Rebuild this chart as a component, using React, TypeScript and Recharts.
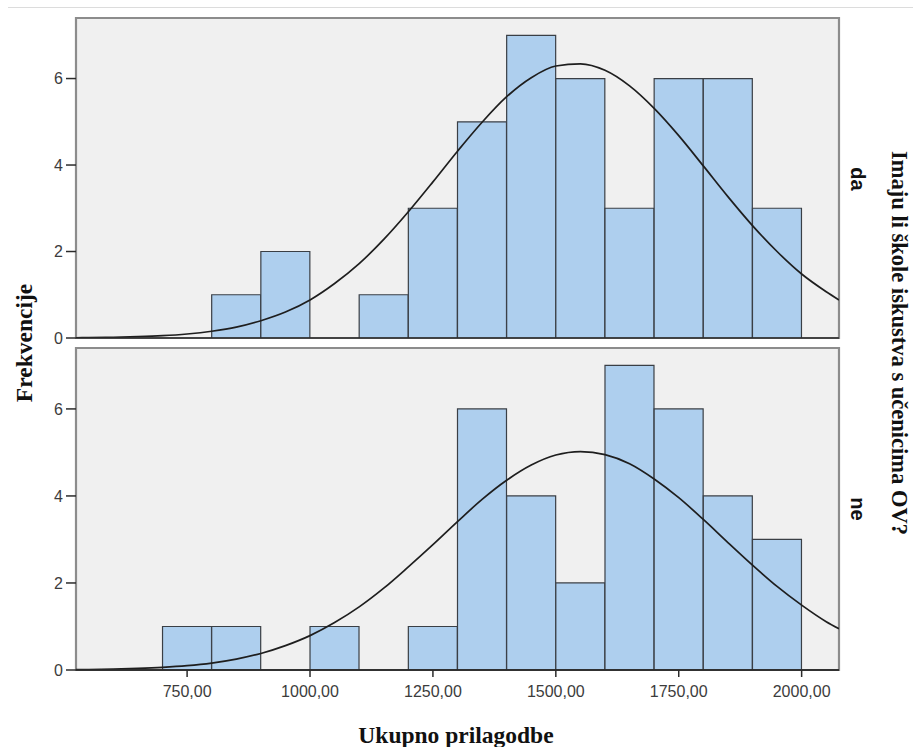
import React from 'react';
import {
  ComposedChart,
  Bar,
  Line,
  XAxis,
  YAxis,
  CartesianGrid,
  ReferenceArea,
  ReferenceLine,
} from 'recharts';

// Histogram bins (start of each 100-wide bin)
const binStarts = [700, 800, 900, 1000, 1100, 1200, 1300, 1400, 1500, 1600, 1700, 1800, 1900];
const binWidth = 100;
// Frequencies: "da" panel (top) and "ne" panel (bottom)
const daCounts = [0, 1, 2, 0, 1, 3, 5, 7, 6, 3, 6, 6, 3];
const neCounts = [1, 1, 0, 1, 0, 1, 6, 4, 2, 7, 6, 4, 3];

// Normal curve
const curveX = [
  524, 550, 600, 650, 700, 750, 800, 850, 900, 950,
  1000, 1050, 1100, 1150, 1200, 1250, 1300, 1350, 1400, 1450, 1500,
  1550, 1600, 1650, 1700, 1750, 1800, 1850, 1900, 1950, 2000, 2050,
  2076,
];
const daCurve = [
  0.006, 0.008, 0.016, 0.03, 0.053, 0.093, 0.156, 0.25, 0.4, 0.6,
  0.88, 1.26, 1.72, 2.28, 2.92, 3.61, 4.32, 4.99, 5.58, 6.02, 6.29,
  6.34, 6.19, 5.83, 5.31, 4.68, 3.98, 3.27, 2.6, 2.0, 1.48, 1.07,
  0.88,
];
const neCurve = [
  0.008, 0.011, 0.02, 0.036, 0.061, 0.1, 0.16, 0.25, 0.38, 0.56,
  0.79, 1.09, 1.45, 1.88, 2.37, 2.88, 3.41, 3.92, 4.36, 4.71, 4.94,
  5.02, 4.95, 4.74, 4.39, 3.96, 3.46, 2.93, 2.41, 1.92, 1.49, 1.11,
  0.95,
];

const xTicks = [750, 1000, 1250, 1500, 1750, 2000];
const yTicks = [0, 2, 4, 6];
const xDomain: [number, number] = [524, 2076];
const yDomain: [number, number] = [0, 7.4];

const panelLabels = ['da', 'ne'];
const yTitle = 'Frekvencije';
const xTitle = 'Ukupno prilagodbe';
const rightTitle = 'Imaju li škole iskustva s učenicima OV?';

const BAR_FILL = '#aecfee';
const BAR_STROKE = '#3a3f45';
const BG = '#f0f0f0';
const BORDER = '#8c8c8c';
const SANS = '"Liberation Sans", Arial, sans-serif';
const SERIF = '"Liberation Serif", "Times New Roman", serif';

const fmtX = (v: number) => `${v},00`;

type PanelProps = {
  counts: number[];
  curve: number[];
  showXAxis: boolean;
  width: number;
  height: number;
  margin: { top: number; right: number; bottom: number; left: number };
};

function Panel({ counts, curve, showXAxis, width, height, margin }: PanelProps) {
  const barData = binStarts.map((s, i) => ({ x: s + binWidth / 2, count: counts[i] }));
  const lineData = curveX.map((x, i) => ({ x, y: curve[i] }));
  return (
    <ComposedChart
      width={width}
      height={height}
      data={barData}
      margin={margin}
      barCategoryGap={0}
      barGap={0}
    >
      <CartesianGrid fill={BG} horizontal={false} vertical={false} />
      <XAxis
        dataKey="x"
        type="number"
        domain={xDomain}
        allowDataOverflow
        ticks={xTicks}
        tickFormatter={fmtX}
        hide={!showXAxis}
        height={30}
        tickSize={7}
        tickMargin={9}
        axisLine={{ stroke: '#2b2b2b', strokeWidth: 1.5 }}
        tickLine={{ stroke: '#2b2b2b', strokeWidth: 1.5 }}
        tick={{ fill: '#3c3c3c', fontSize: 16, fontFamily: SANS }}
        interval={0}
      />
      <XAxis xAxisId="curve" dataKey="x" type="number" domain={xDomain} allowDataOverflow hide />
      <YAxis
        type="number"
        domain={yDomain}
        allowDataOverflow
        ticks={yTicks}
        width={76}
        tickSize={10}
        tickMargin={3}
        axisLine={false}
        tickLine={{ stroke: '#2b2b2b', strokeWidth: 1.5 }}
        tick={{ fill: '#3c3c3c', fontSize: 16, fontFamily: SANS }}
        interval={0}
      />
      <ReferenceArea
        x1={xDomain[0]}
        x2={xDomain[1]}
        y1={yDomain[0]}
        y2={yDomain[1]}
        fill="none"
        stroke={BORDER}
        strokeWidth={2.2}
        ifOverflow="visible"
      />
      <Bar
        dataKey="count"
        fill={BAR_FILL}
        stroke={BAR_STROKE}
        strokeWidth={1.2}
        isAnimationActive={false}
      />
      <Line
        xAxisId="curve"
        data={lineData}
        dataKey="y"
        type="monotone"
        dot={false}
        activeDot={false}
        stroke="#1e1e1e"
        strokeWidth={1.7}
        isAnimationActive={false}
      />
      <ReferenceLine y={0} stroke="#2b2b2b" strokeWidth={1.5} ifOverflow="visible" />
    </ComposedChart>
  );
}

export default function App() {
  return (
    <div
      style={{
        position: 'absolute',
        left: 0,
        top: 0,
        width: 913,
        height: 747,
        background: '#ffffff',
        overflow: 'hidden',
      }}
    >
      <div style={{ position: 'absolute', left: 8, top: 7, width: 905, height: 1, background: '#dcdcdc' }} />
      <div style={{ position: 'absolute', left: 0, top: 330 }}>
        <Panel
          counts={neCounts}
          curve={neCurve}
          showXAxis={true}
          width={913}
          height={400}
          margin={{ top: 18, right: 74, bottom: 30, left: 0 }}
        />
      </div>
      <div style={{ position: 'absolute', left: 0, top: 0 }}>
        <Panel
          counts={daCounts}
          curve={daCurve}
          showXAxis={false}
          width={913}
          height={347}
          margin={{ top: 18, right: 74, bottom: 9, left: 0 }}
        />
      </div>
      <svg
        width={913}
        height={747}
        style={{ position: 'absolute', left: 0, top: 0, pointerEvents: 'none' }}
      >
        <text
          x={24}
          y={343}
          transform="rotate(-90 24 343)"
          textAnchor="middle"
          dominantBaseline="central"
          fontFamily={SERIF}
          fontWeight="bold"
          fontSize={23.5}
          fill="#111"
        >
          {yTitle}
        </text>
        <text
          x={456}
          y={735}
          textAnchor="middle"
          dominantBaseline="central"
          fontFamily={SERIF}
          fontWeight="bold"
          fontSize={23.5}
          fill="#111"
        >
          {xTitle}
        </text>
        <text
          x={899}
          y={343}
          transform="rotate(90 899 343)"
          textAnchor="middle"
          dominantBaseline="central"
          fontFamily={SERIF}
          fontWeight="bold"
          fontSize={22.5}
          fill="#111"
        >
          {rightTitle}
        </text>
        <text
          x={857.5}
          y={179}
          transform="rotate(90 857.5 179)"
          textAnchor="middle"
          dominantBaseline="central"
          fontFamily={SANS}
          fontWeight="bold"
          fontSize={20}
          fill="#111"
        >
          {panelLabels[0]}
        </text>
        <text
          x={857.5}
          y={509}
          transform="rotate(90 857.5 509)"
          textAnchor="middle"
          dominantBaseline="central"
          fontFamily={SANS}
          fontWeight="bold"
          fontSize={20}
          fill="#111"
        >
          {panelLabels[1]}
        </text>
      </svg>
    </div>
  );
}
